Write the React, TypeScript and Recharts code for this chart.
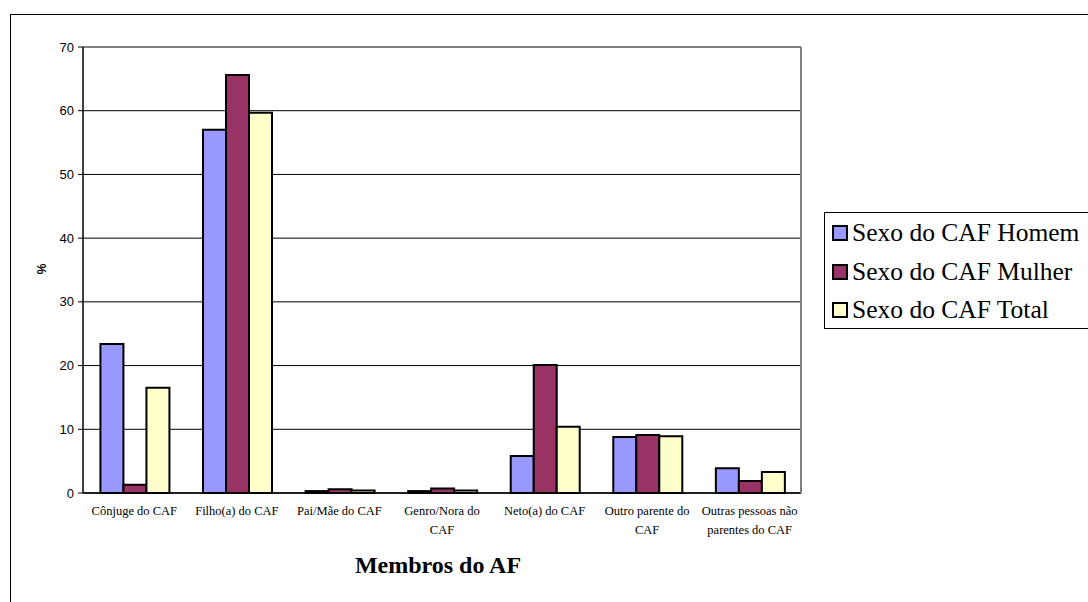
import React from 'react';
import { BarChart, Bar, XAxis, YAxis, CartesianGrid, Legend } from 'recharts';

const categories = [
  'Cônjuge do CAF',
  'Filho(a) do CAF',
  'Pai/Mãe do CAF',
  'Genro/Nora do CAF',
  'Neto(a) do CAF',
  'Outro parente do CAF',
  'Outras pessoas não parentes do CAF',
];
const tickLabelLines = [
  ['Cônjuge do CAF'],
  ['Filho(a) do CAF'],
  ['Pai/Mãe do CAF'],
  ['Genro/Nora do', 'CAF'],
  ['Neto(a) do CAF'],
  ['Outro parente do', 'CAF'],
  ['Outras pessoas não', 'parentes do CAF'],
];
const homem = [23.4, 57.0, 0.3, 0.3, 5.8, 8.8, 3.9];
const mulher = [1.3, 65.6, 0.6, 0.7, 20.1, 9.1, 1.9];
const total = [16.5, 59.7, 0.4, 0.4, 10.4, 8.9, 3.3];
const yTicks = [0, 10, 20, 30, 40, 50, 60, 70];
const seriesNames = ['Sexo do CAF Homem', 'Sexo do CAF Mulher', 'Sexo do CAF Total'];
const seriesColors = ['#9999FF', '#993366', '#FFFFCC'];
const xTitle = 'Membros do AF';
const yTitle = '%';

const SERIF = "'Liberation Serif', 'Times New Roman', serif";
const SANS = "'Liberation Sans', Arial, sans-serif";

const data = categories.map((c, i) => ({ category: c, homem: homem[i], mulher: mulher[i], total: total[i] }));
const edgeTicks = categories.map((_, i) => i).concat([categories.length]);

function CatTick(props: any) {
  const { x, y, payload } = props;
  let idx = typeof props.index === 'number' ? props.index : 0;
  if (payload && categories.indexOf(payload.value) >= 0) idx = categories.indexOf(payload.value);
  const lines = tickLabelLines[idx] || [String(payload?.value ?? '')];
  return (
    <g transform={`translate(${x},${y})`}>
      <text textAnchor="middle" fontFamily={SERIF} fontSize={12.5} fill="#000">
        {lines.map((l, i) => (
          <tspan key={i} x={0} dy={i === 0 ? 21 : 19}>{l}</tspan>
        ))}
      </text>
    </g>
  );
}

function LegendBox(props: any) {
  const payload = props.payload || [];
  return (
    <div style={{ border: '1px solid #000', background: '#fff', width: 300, height: 117, boxSizing: 'border-box', paddingTop: 1 }}>
      {payload.map((p: any, i: number) => (
        <div key={i} style={{ height: 38.5, display: 'flex', alignItems: 'center' }}>
          <span style={{ display: 'inline-block', width: 16, height: 16, boxSizing: 'border-box', border: '2px solid #000', background: p.color, marginLeft: 7 }} />
          <span style={{ marginLeft: 4, fontFamily: SERIF, fontSize: 25.5, color: '#000', lineHeight: '26px', whiteSpace: 'nowrap' }}>{p.value}</span>
        </div>
      ))}
    </div>
  );
}

export default function App() {
  return (
    <div style={{ position: 'absolute', left: 0, top: 0, width: 1088, height: 602, overflow: 'hidden', background: '#fff' }}>
      <div style={{ position: 'absolute', left: 10, top: 14, width: 1200, height: 800, border: '1px solid #000', boxSizing: 'border-box' }} />
      <div style={{ position: 'absolute', left: 0, top: 0 }}>
        <BarChart
          width={1088}
          height={602}
          data={data}
          margin={{ top: 46, right: 286, left: 0, bottom: 0 }}
          barCategoryGap="17%"
          barGap={0}
        >
          <CartesianGrid xAxisId="bCat" yAxisId="left" vertical={false} stroke="#000" strokeWidth={1} />
          <XAxis
            xAxisId="aEdges"
            type="number"
            domain={[0, categories.length]}
            ticks={edgeTicks}
            allowDataOverflow
            tick={false}
            tickSize={6}
            height={1}
            axisLine={{ stroke: '#000', strokeWidth: 1.5 }}
            tickLine={{ stroke: '#000', strokeWidth: 1 }}
          />
          <XAxis
            xAxisId="bCat"
            dataKey="category"
            type="category"
            height={108}
            interval={0}
            tickLine={false}
            axisLine={false}
            tickSize={0}
            tickMargin={0}
            tick={<CatTick />}
          />
          <XAxis
            xAxisId="cTop"
            orientation="top"
            type="number"
            domain={[0, 1]}
            height={1}
            tick={false}
            tickLine={false}
            axisLine={{ stroke: '#808080', strokeWidth: 2 }}
          />
          <YAxis
            yAxisId="left"
            width={83}
            domain={[0, 70]}
            ticks={yTicks}
            interval={0}
            tickSize={5}
            tickMargin={4}
            axisLine={{ stroke: '#000', strokeWidth: 1.5 }}
            tickLine={{ stroke: '#000', strokeWidth: 1 }}
            tick={{ fontFamily: SANS, fontSize: 13, fill: '#000' }}
          />
          <YAxis
            yAxisId="right"
            orientation="right"
            width={1}
            domain={[0, 70]}
            tick={false}
            tickLine={false}
            axisLine={{ stroke: '#808080', strokeWidth: 2 }}
          />
          <Legend
            layout="vertical"
            align="center"
            verticalAlign="middle"
            content={<LegendBox />}
            wrapperStyle={{ left: 824, top: 212, width: 300, height: 117 }}
          />
          <Bar xAxisId="bCat" yAxisId="left" dataKey="homem" name={seriesNames[0]} fill={seriesColors[0]} stroke="#000" strokeWidth={2} isAnimationActive={false} />
          <Bar xAxisId="bCat" yAxisId="left" dataKey="mulher" name={seriesNames[1]} fill={seriesColors[1]} stroke="#000" strokeWidth={2} isAnimationActive={false} />
          <Bar xAxisId="bCat" yAxisId="left" dataKey="total" name={seriesNames[2]} fill={seriesColors[2]} stroke="#000" strokeWidth={2} isAnimationActive={false} />
        </BarChart>
      </div>
      <svg width={1088} height={602} style={{ position: 'absolute', left: 0, top: 0, pointerEvents: 'none' }}>
        <text x={42} y={269} dy="0.35em" textAnchor="middle" fontFamily={SANS} fontWeight="bold" fontSize={12} fill="#000" transform="rotate(-90, 42, 269)">{yTitle}</text>
        <text x={438} y={573} textAnchor="middle" fontFamily={SERIF} fontWeight="bold" fontSize={24} fill="#000">{xTitle}</text>
      </svg>
    </div>
  );
}
